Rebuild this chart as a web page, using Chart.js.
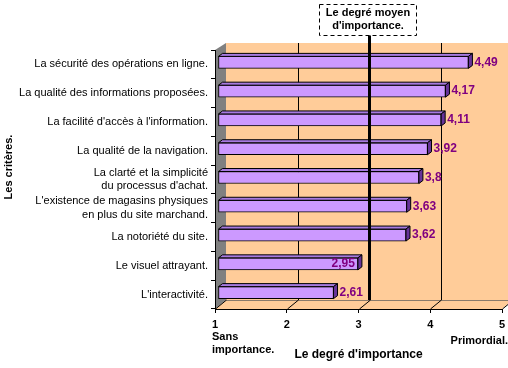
<!DOCTYPE html>
<html>
<head>
<meta charset="utf-8">
<script src="https://cdn.jsdelivr.net/npm/chart.js@4"></script>
<style>
  body { margin: 0; background: #fff; }
  #wrap { width: 508px; height: 368px; }
</style>
</head>
<body>
<div id="wrap"><canvas id="chart"></canvas></div>
<script>
// critères et degrés moyens d'importance (échelle de 1 à 5)
const criteres = [
  'La sécurité des opérations en ligne.',
  'La qualité des informations proposées.',
  "La facilité d'accès à l'information.",
  'La qualité de la navigation.',
  ['La clarté et la simplicité', "du processus d'achat."],
  ["L'existence de magasins physiques", 'en plus du site marchand.'],
  'La notoriété du site.',
  'Le visuel attrayant.',
  "L'interactivité."
];
const moyennes = [4.49, 4.17, 4.11, 3.92, 3.8, 3.63, 3.62, 2.95, 2.61];
const echelle = [1, 2, 3, 4, 5];
const degreMoyen = 3;

// où l'étiquette est posée par rapport à la barre
const placeEtiquette = ['out', 'out', 'out', 'out', 'out', 'out', 'out', 'in', 'out'];

const FONT = '"Liberation Sans", Arial, sans-serif';
const WALL_DX = 11, WALL_TOP = 7, WALL_BOTTOM = 9; // profondeur du fond
const BAR_DX = 4, BAR_DY = 3;                       // profondeur des barres
const SHIFT_X = 3, SHIFT_Y = -2;

function poly(ctx, pts) {
  ctx.beginPath();
  pts.forEach(([px, py], i) => i ? ctx.lineTo(px, py) : ctx.moveTo(px, py));
  ctx.closePath();
  ctx.fill();
  ctx.stroke();
}

const decor3d = {
  id: 'decor3d',
  beforeDraw(chart) {
    const { ctx, chartArea: a, scales: { x } } = chart;
    const top = a.top - WALL_TOP, bottom = a.bottom - WALL_BOTTOM;
    ctx.save();
    ctx.fillStyle = '#fff';
    ctx.fillRect(0, 0, chart.width, chart.height);

    // fond + sol
    ctx.fillStyle = '#ffcc99';
    ctx.fillRect(a.left + WALL_DX, top, chart.width, bottom - top);
    ctx.beginPath();
    ctx.moveTo(a.left, a.bottom);
    ctx.lineTo(a.right, a.bottom);
    ctx.lineTo(a.right + WALL_DX, bottom);
    ctx.lineTo(a.left + WALL_DX, bottom);
    ctx.closePath();
    ctx.fill();

    // paroi gauche
    ctx.fillStyle = '#808080';
    ctx.beginPath();
    ctx.moveTo(a.left, a.top);
    ctx.lineTo(a.left + WALL_DX, top);
    ctx.lineTo(a.left + WALL_DX, bottom);
    ctx.lineTo(a.left, a.bottom);
    ctx.closePath();
    ctx.fill();

    ctx.strokeStyle = '#8a7a6a';
    ctx.lineWidth = 1;
    ctx.beginPath();
    ctx.moveTo(a.left + WALL_DX, bottom + 0.5);
    ctx.lineTo(chart.width, bottom + 0.5);
    ctx.stroke();

    // quadrillage
    ctx.strokeStyle = '#000';
    echelle.forEach(v => {
      const px = Math.round(x.getPixelForValue(v)) + 0.5;
      ctx.beginPath();
      ctx.moveTo(px, a.bottom);
      ctx.lineTo(px + WALL_DX, bottom);
      if (v > echelle[0]) ctx.lineTo(px + WALL_DX, top);
      ctx.stroke();
    });
    ctx.restore();
  },
  beforeDatasetsDraw(chart) {
    chart.ctx.save();
    chart.ctx.translate(SHIFT_X, SHIFT_Y);
  },
  afterDatasetsDraw(chart) {
    const ctx = chart.ctx;
    const bars = chart.getDatasetMeta(0).data;
    ctx.strokeStyle = '#000';
    ctx.lineWidth = 1;
    bars.forEach(bar => {
      const { x: xe, y, base, height } = bar.getProps(['x', 'y', 'base', 'height'], true);
      const t = y - height / 2, b = y + height / 2;
      ctx.fillStyle = '#a77ae0';
      poly(ctx, [[base, t], [base + BAR_DX, t - BAR_DY], [xe + BAR_DX, t - BAR_DY], [xe, t]]);
      ctx.fillStyle = '#663399';
      poly(ctx, [[xe, t], [xe + BAR_DX, t - BAR_DY], [xe + BAR_DX, b - BAR_DY], [xe, b]]);
    });
    ctx.restore();

    // étiquettes de valeurs
    ctx.save();
    ctx.font = 'bold 12px ' + FONT;
    ctx.fillStyle = '#800080';
    ctx.textBaseline = 'middle';
    bars.forEach((bar, i) => {
      const txt = String(moyennes[i]).replace('.', ',');
      const end = bar.x + SHIFT_X;
      if (placeEtiquette[i] === 'in') {
        ctx.textAlign = 'right';
        ctx.fillText(txt, end - 3, bar.y + SHIFT_Y);
      } else {
        ctx.textAlign = 'left';
        ctx.fillText(txt, end + BAR_DX + 2, bar.y + SHIFT_Y);
      }
    });
    ctx.restore();
  },
  afterDraw(chart) {
    const { ctx, chartArea: a, scales: { x } } = chart;
    ctx.save();

    // ligne du degré moyen + encadré
    const lx = x.getPixelForValue(degreMoyen) + WALL_DX;
    ctx.strokeStyle = '#000';
    ctx.lineWidth = 3;
    ctx.beginPath();
    ctx.moveTo(lx, 35);
    ctx.lineTo(lx, a.bottom - WALL_BOTTOM);
    ctx.stroke();

    const bw = 97, bx = Math.round(lx - 51) + 0.5;
    ctx.fillStyle = '#fff';
    ctx.fillRect(bx, 4.5, bw, 31);
    ctx.lineWidth = 1;
    ctx.setLineDash([4, 3]);
    ctx.strokeRect(bx, 4.5, bw, 31);
    ctx.setLineDash([]);
    ctx.fillStyle = '#000';
    ctx.font = 'bold 11px ' + FONT;
    ctx.textAlign = 'center';
    ctx.textBaseline = 'middle';
    ctx.fillText('Le degré moyen', bx + bw / 2, 13);
    ctx.fillText("d'importance.", bx + bw / 2, 26);

    // bornes de l'échelle
    ctx.textAlign = 'left';
    ctx.fillText('Sans', x.getPixelForValue(1) - 3, 337);
    ctx.fillText('importance.', x.getPixelForValue(1) - 3, 350);
    ctx.textAlign = 'right';
    ctx.fillText('Primordial.', chart.width, 341);

    // titre de l'axe vertical
    ctx.translate(9, 167);
    ctx.rotate(-Math.PI / 2);
    ctx.textAlign = 'center';
    ctx.fillText('Les critères.', 0, 0);
    ctx.restore();
  }
};

new Chart(document.getElementById('chart'), {
  type: 'bar',
  data: {
    labels: criteres,
    datasets: [{
      data: moyennes,
      base: echelle[0],
      backgroundColor: '#cc99ff',
      borderColor: '#000',
      borderWidth: 1,
      borderSkipped: false,
      barThickness: 12
    }]
  },
  options: {
    indexAxis: 'y',
    responsive: true,
    maintainAspectRatio: false,
    animation: false,
    layout: { padding: { top: 50, right: 6, left: 0, bottom: 0 } },
    plugins: { legend: { display: false }, tooltip: { enabled: false } },
    scales: {
      x: {
        min: 1,
        max: 5,
        ticks: { stepSize: 1, color: '#000', font: { family: FONT, size: 11, weight: 'bold' }, padding: 5 },
        grid: { drawOnChartArea: false, color: '#000', tickLength: 4 },
        border: { color: '#000' },
        title: {
          display: true,
          text: "Le degré d'importance",
          color: '#000',
          font: { family: FONT, size: 12, weight: 'bold' },
          padding: { top: 0, bottom: 6 }
        },
        afterFit: s => { s.height = 59; s.paddingRight = 0; s.paddingLeft = 0; }
      },
      y: {
        ticks: { autoSkip: false, color: '#000', font: { family: FONT, size: 11, lineHeight: 1.25 }, padding: 3 },
        grid: { drawOnChartArea: false, color: '#000', tickLength: 4 },
        border: { color: '#000' },
        afterFit: s => { s.width = 215; }
      }
    }
  },
  plugins: [decor3d]
});
</script>
</body>
</html>
